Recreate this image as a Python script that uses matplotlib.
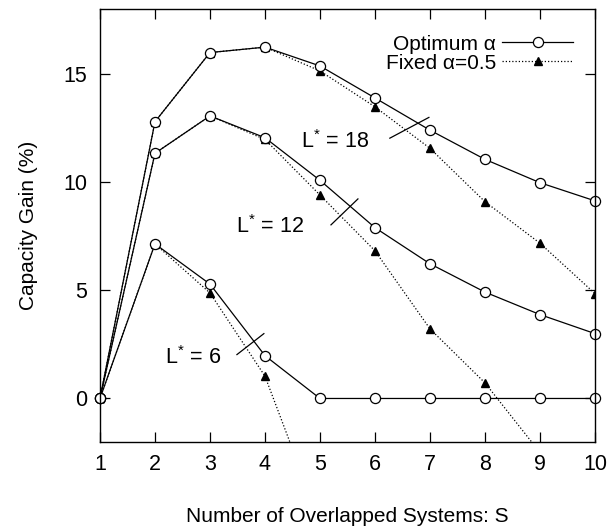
import matplotlib
matplotlib.use("Agg")
import matplotlib.pyplot as plt
from matplotlib.lines import Line2D

plt.rcParams['font.family'] = ['Liberation Sans', 'DejaVu Sans']
plt.rcParams['mathtext.fontset'] = 'custom'
plt.rcParams['mathtext.rm'] = 'Liberation Sans'
plt.rcParams['mathtext.it'] = 'Liberation Sans:italic'

S = [1, 2, 3, 4, 5, 6, 7, 8, 9, 10]

opt_L18 = [0, 12.8, 16.0, 16.25, 15.38, 13.9, 12.41, 11.06, 9.98, 9.14]
fix_L18 = [0, 12.8, 16.0, 16.25, 15.15, 13.49, 11.57, 9.1, 7.18, 4.85]
opt_L12 = [0, 11.34, 13.07, 12.06, 10.09, 7.9, 6.23, 4.92, 3.88, 3.0]
fix_L12 = [0, 11.34, 13.07, 11.98, 9.41, 6.83, 3.22, 0.72, -2.5]
opt_L6 = [0, 7.15, 5.29, 1.98, 0, 0, 0, 0, 0, 0]
fix_L6 = [0, 7.15, 4.88, 1.03, -5.7]

labels = ["L$^{*}$ = 18", "L$^{*}$ = 12", "L$^{*}$ = 6"]
label_pos = [(5.27, 11.9), (4.09, 7.94), (2.69, 1.9)]
cut_marks = [((6.27, 6.98), (12.04, 13.0)), ((5.2, 5.69), (8.03, 9.23)), ((3.49, 3.98), (2.03, 3.0))]

fig = plt.figure(figsize=(6.16, 5.29), dpi=100)
ax = fig.add_axes([0.1623, 0.165, 0.8036, 0.8174])

fs = 15.5
opt_kw = dict(color='black', lw=0.9, marker='o', mfc='white', mec='black', ms=7.3, mew=0.9)
fix_kw = dict(color='black', lw=0.9, ls=(0, (1, 1.6)), marker='^', mfc='black', mec='black', ms=6)

for opt, fix in [(opt_L18, fix_L18), (opt_L12, fix_L12), (opt_L6, fix_L6)]:
    ax.plot(S[:len(fix)], fix, clip_on=True, **fix_kw)
    ax.plot(S[:len(opt)], opt, clip_on=False, **opt_kw)

for txt, (tx, ty) in zip(labels, label_pos):
    ax.text(tx, ty, txt, fontsize=fs, ha='center', va='center')
for xs, ys in cut_marks:
    ax.plot(xs, ys, color='black', lw=0.9)

ax.set_xlim(1, 10)
ax.set_ylim(-2, 18)
ax.set_xticks(S)
ax.set_yticks([0, 5, 10, 15])
ax.tick_params(direction='in', length=7, width=0.9, top=True, right=True, labelsize=fs, pad=9)
for sp in ax.spines.values():
    sp.set_linewidth(1.0)

ax.set_xlabel("Number of Overlapped Systems: S", fontsize=15, labelpad=23)
ax.set_ylabel("Capacity Gain (%)", fontsize=15, labelpad=18)

handles = [Line2D([], [], **opt_kw), Line2D([], [], **fix_kw)]
ax.legend(handles, ["Optimum α", "Fixed α=0.5"], loc='upper right', frameon=False,
          fontsize=15, markerfirst=False, handlelength=3.4, handletextpad=0.3,
          labelspacing=0.0, borderaxespad=0.3, bbox_to_anchor=(0.985, 0.975))

fig.savefig("out.png", dpi=100)
